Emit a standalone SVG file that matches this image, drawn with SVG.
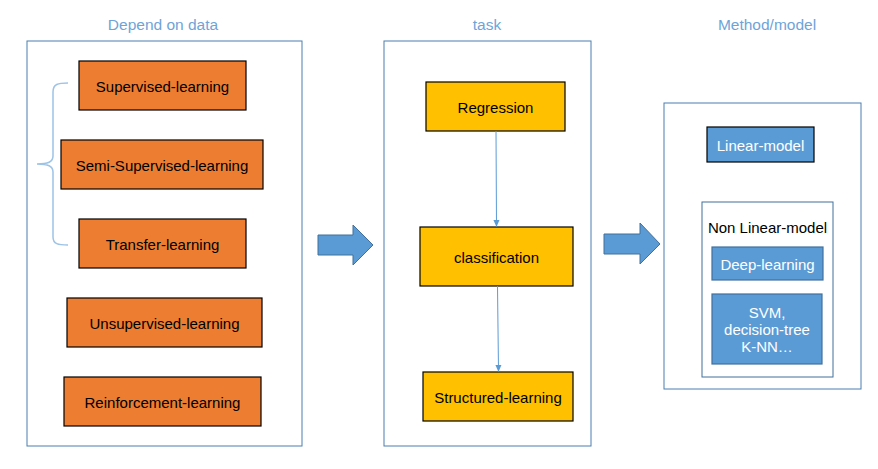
<svg xmlns="http://www.w3.org/2000/svg" width="878" height="469" viewBox="0 0 878 469">
<style>
text{font-family:"Liberation Sans",Arial,sans-serif;font-size:15px;text-anchor:middle;dominant-baseline:central}
.title{fill:#6fa3d8;font-size:15.5px}
.frame{fill:#fff;stroke:#4a7fb0;stroke-width:1}
.orange{fill:#ED7D31;stroke:#000;stroke-width:1.2}
.yellow{fill:#FFC000;stroke:#000;stroke-width:1.2}
.blue{fill:#5B9BD5;stroke:#41719C;stroke-width:1.2}
.blueb{fill:#5B9BD5;stroke:#000;stroke-width:1.2}
.wt{fill:#fff}
.bigarrow{fill:#5B9BD5;stroke:#41719C;stroke-width:1}
.conn{stroke:#5B9BD5;stroke-width:1;fill:none;marker-end:url(#ah)}
</style>
<defs>
<marker id="ah" markerWidth="8" markerHeight="8" refX="6" refY="4" orient="auto" markerUnits="userSpaceOnUse">
<path d="M0,1 L7,4 L0,7 z" fill="#5B9BD5"/>
</marker>
</defs>
<rect width="878" height="469" fill="#fff"/>

<g id="titles">
<text class="title" x="163" y="24">Depend on data</text>
<text class="title" x="487" y="24">task</text>
<text class="title" x="767" y="24">Method/model</text>
</g>

<g id="data-frame"><rect class="frame" x="27" y="41" width="275" height="405"/></g>
<g id="task-frame"><rect class="frame" x="384" y="41" width="207" height="405"/></g>
<g id="model-frame"><rect class="frame" x="664" y="103" width="197" height="286"/></g>

<g id="brace"><path d="M68,83 C58,83 53,84 53,92 L53,156 C53,162 48,164 37,164 C48,164 53,166 53,172 L53,237 C53,244 58,245 68,245" fill="none" stroke="#9dc3e6" stroke-width="1.5"/></g>

<g id="supervised"><rect class="orange" x="79" y="61" width="167" height="49"/><text x="162.5" y="86">Supervised-learning</text></g>
<g id="semi-supervised"><rect class="orange" x="61" y="140" width="202" height="49"/><text x="162" y="165">Semi-Supervised-learning</text></g>
<g id="transfer"><rect class="orange" x="79" y="219" width="167" height="49"/><text x="162.5" y="244">Transfer-learning</text></g>
<g id="unsupervised"><rect class="orange" x="67" y="298" width="195" height="49"/><text x="164.5" y="323">Unsupervised-learning</text></g>
<g id="reinforcement"><rect class="orange" x="64" y="377" width="197" height="49"/><text x="162.5" y="402">Reinforcement-learning</text></g>

<g id="arrow1"><path class="bigarrow" d="M318,235 L353,235 L353,225 L373,245 L353,265 L353,255 L318,255 z"/></g>
<g id="arrow2"><path class="bigarrow" d="M604,234 L640,234 L640,223 L660,244 L640,264 L640,254 L604,254 z"/></g>

<g id="regression"><rect class="yellow" x="426" y="82" width="139" height="49"/><text x="495.5" y="107">Regression</text></g>
<g id="classification"><rect class="yellow" x="420" y="227" width="153" height="59"/><text x="496.5" y="257">classification</text></g>
<g id="structured"><rect class="yellow" x="423" y="372" width="150" height="49"/><text x="498" y="397">Structured-learning</text></g>

<g id="connectors">
<line class="conn" x1="496" y1="131" x2="496.5" y2="226"/>
<line class="conn" x1="497.5" y1="286" x2="498.5" y2="371"/>
</g>

<g id="linear"><rect class="blueb" x="707" y="127" width="107" height="35"/><text class="wt" x="760.5" y="145">Linear-model</text></g>
<g id="nonlinear">
<rect x="702" y="202" width="131" height="175" fill="#fff" stroke="#41719C" stroke-width="1"/>
<text x="767.5" y="227">Non Linear-model</text>
</g>
<g id="deep"><rect class="blue" x="712" y="247" width="111" height="33"/><text class="wt" x="767.5" y="264">Deep-learning</text></g>
<g id="svm"><rect class="blue" x="712" y="294" width="110" height="70"/>
<text class="wt" x="767" y="312">SVM,</text>
<text class="wt" x="767" y="329">decision-tree</text>
<text class="wt" x="767" y="346">K-NN…</text>
</g>
</svg>
